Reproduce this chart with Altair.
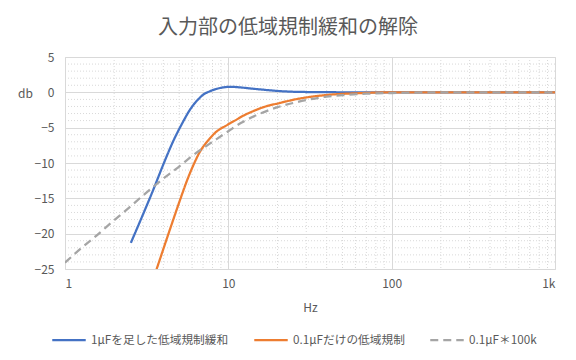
import altair as alt
import pandas as pd

title_text = "入力部の低域規制緩和の解除"
x_title = "Hz"
y_title = "db"
series_names = ["1μFを足した低域規制緩和", "0.1μFだけの低域規制", "0.1μF＊100k"]
series_colors = ["#4472C4", "#ED7D31", "#A5A5A5"]
series_dashes = [[1, 0], [1, 0], [8, 5]]

blue_hz = [2.53, 3.0, 3.47, 4.0, 4.6, 5.3, 5.7, 6.1, 6.6, 7.0, 7.7, 8.5, 9.3, 10.2, 11.8, 13.6, 16.4, 20, 26, 40, 70, 100, 200, 500, 1000]
blue_db = [-21.3, -17.3, -13.8, -10.2, -6.9, -4.1, -2.8, -1.8, -0.9, -0.35, 0.15, 0.5, 0.7, 0.78, 0.7, 0.55, 0.37, 0.2, 0.07, 0.02, 0.0, 0.0, 0.0, 0.0, 0.0]

orange_hz = [3.2, 3.64, 4.39, 5.05, 5.56, 6.25, 6.7, 7.2, 7.72, 8.28, 8.89, 9.55, 10.2, 10.96, 12.6, 13.6, 16.4, 20.7, 26.3, 39, 67, 100, 200, 500, 1000]
orange_db = [-28.8, -25.0, -19.4, -15.3, -12.6, -9.8, -8.4, -7.35, -6.5, -5.75, -5.2, -4.8, -4.4, -4.0, -3.2, -2.85, -2.1, -1.5, -0.95, -0.4, -0.1, 0.0, 0.0, 0.0, 0.0]

gray_hz = [1, 1.25, 1.5, 2, 2.5, 3, 3.5, 4, 5, 6, 7, 8, 10, 12, 15, 20, 25, 30, 40, 50, 70, 100, 200, 500, 1000]
gray_db = [-24.1, -22.1, -20.6, -18.1, -16.2, -14.6, -13.3, -12.2, -10.5, -9.0, -7.9, -7.0, -5.5, -4.3, -3.2, -2.1, -1.5, -1.1, -0.6, -0.4, -0.2, -0.1, 0.0, 0.0, 0.0]

x_major = [1, 10, 100, 1000]
x_major_labels = ["1", "10", "100", "1k"]
x_minor = [2, 3, 4, 5, 6, 7, 8, 9, 20, 30, 40, 50, 60, 70, 80, 90, 200, 300, 400, 500, 600, 700, 800, 900]
y_major = [-25, -20, -15, -10, -5, 0, 5]
y_minor = [v for v in range(-24, 5) if v % 5 != 0]

FONT = "Noto Sans CJK JP"
TEXT = "#595959"

rows = []
for name, hz, db in zip(series_names, [blue_hz, orange_hz, gray_hz], [blue_db, orange_db, gray_db]):
    for h, d in zip(hz, db):
        rows.append({"series": name, "hz": h, "db": d})
df = pd.DataFrame(rows)

x_scale = alt.Scale(type="log", domain=[1, 1000], nice=False)
y_scale = alt.Scale(domain=[-25, 5], nice=False, zero=False)

label_map = "{" + ",".join(f"'{v}':'{l}'" for v, l in zip(x_major, x_major_labels)) + "}"

x_axis = alt.Axis(
    values=x_major, labelExpr=f"{label_map}[datum.value] || datum.label",
    title=x_title, titleY=38, titleBaseline="middle",
    grid=True, gridColor="#D9D9D9", gridWidth=1, domain=False, ticks=False,
    labelPadding=9, labelFont=FONT, labelFontSize=12, labelColor=TEXT,
    titleFont=FONT, titleFontSize=12, titleColor=TEXT, titleFontWeight="normal",
)
y_axis = alt.Axis(
    values=y_major, title=y_title, titleAngle=0, titleX=-40, titleY=36,
    titleAlign="center", titleBaseline="middle",
    grid=True, gridColor="#D9D9D9", gridWidth=1, domain=False, ticks=False,
    labelPadding=11, labelFont=FONT, labelFontSize=12, labelColor=TEXT,
    titleFont=FONT, titleFontSize=12, titleColor=TEXT, titleFontWeight="normal",
)

minor_x = alt.Chart(pd.DataFrame({"hz": x_minor})).mark_rule(
    color="#D9D9D9", strokeDash=[1, 2], strokeWidth=1
).encode(x=alt.X("hz:Q", scale=x_scale, axis=x_axis, title=x_title))

minor_y = alt.Chart(pd.DataFrame({"db": y_minor})).mark_rule(
    color="#D9D9D9", strokeDash=[1, 2], strokeWidth=1
).encode(y=alt.Y("db:Q", scale=y_scale, axis=y_axis, title=y_title))

legend = alt.Legend(
    title=None, orient="none", legendX=-14, legendY=265, direction="horizontal",
    symbolType="stroke", symbolSize=1120, symbolStrokeWidth=2.25,
    labelFont=FONT, labelFontSize=11.7, labelColor=TEXT, labelOffset=4,
    columnPadding=20, padding=0,
)

lines = alt.Chart(df).mark_line(clip=True, strokeWidth=2.25, interpolate="monotone").encode(
    x=alt.X("hz:Q", scale=x_scale, axis=x_axis, title=x_title),
    y=alt.Y("db:Q", scale=y_scale, axis=y_axis, title=y_title),
    color=alt.Color("series:N", scale=alt.Scale(domain=series_names, range=series_colors), legend=legend),
    strokeDash=alt.StrokeDash("series:N", scale=alt.Scale(domain=series_names, range=series_dashes), legend=legend),
    order=alt.Order("hz:Q"),
)

chart = alt.layer(minor_x, minor_y, lines).properties(
    width=490, height=212,
    title=alt.TitleParams(title_text, anchor="middle", frame="group", dx=-22, offset=13,
                          font=FONT, fontSize=20, fontWeight="normal", color=TEXT),
    autosize=alt.AutoSizeParams(type="none"),
    padding={"left": 57, "top": 49, "right": 13, "bottom": 83},
).configure_view(stroke=None).configure(background="white")

chart.save("out.html", embed_options={"renderer": "svg", "actions": False})
